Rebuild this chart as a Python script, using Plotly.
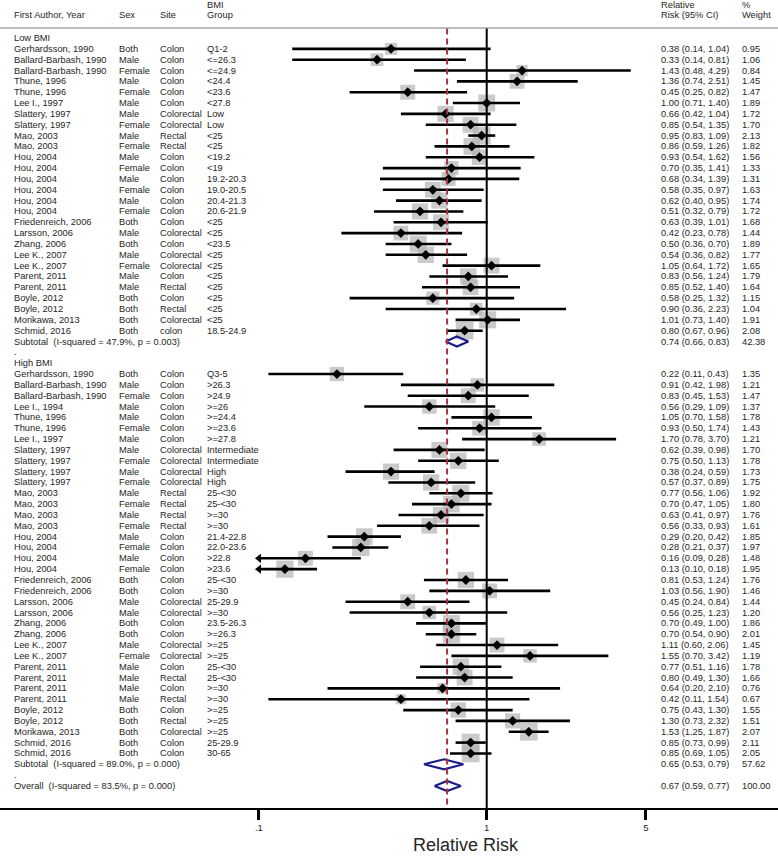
import math
import plotly.graph_objects as go

# ---------------- data ----------------
low_author = ["Gerhardsson, 1990", "Ballard-Barbash, 1990", "Ballard-Barbash, 1990", "Thune, 1996",
              "Thune, 1996", "Lee I., 1997", "Slattery, 1997", "Slattery, 1997", "Mao, 2003", "Mao, 2003",
              "Hou, 2004", "Hou, 2004", "Hou, 2004", "Hou, 2004", "Hou, 2004", "Hou, 2004",
              "Friedenreich, 2006", "Larsson, 2006", "Zhang, 2006", "Lee K., 2007", "Lee K., 2007",
              "Parent, 2011", "Parent, 2011", "Boyle, 2012", "Boyle, 2012", "Morikawa, 2013", "Schmid, 2016"]
low_sex = ["Both", "Male", "Female", "Male", "Female", "Male", "Male", "Female", "Male", "Female",
           "Male", "Female", "Male", "Female", "Male", "Female", "Both", "Male", "Both", "Male", "Female",
           "Male", "Male", "Both", "Both", "Both", "Both"]
low_site = ["Colon", "Colon", "Colon", "Colon", "Colon", "Colon", "Colorectal", "Colorectal", "Rectal", "Rectal",
            "Colon", "Colon", "Colon", "Colon", "Colon", "Colon", "Colon", "Colorectal", "Colon", "Colorectal",
            "Colorectal", "Colon", "Rectal", "Colon", "Rectal", "Colorectal", "colon"]
low_bmi = ["Q1-2", "<=26.3", "<=24.9", "<24.4", "<23.6", "<27.8", "Low", "Low", "<25", "<25",
           "<19.2", "<19", "19.2-20.3", "19.0-20.5", "20.4-21.3", "20.6-21.9", "<25", "<25", "<23.5", "<25",
           "<25", "<25", "<25", "<25", "<25", "<25", "18.5-24.9"]
low_rr = [0.38, 0.33, 1.43, 1.36, 0.45, 1.00, 0.66, 0.85, 0.95, 0.86, 0.93, 0.70, 0.68, 0.58, 0.62, 0.51,
          0.63, 0.42, 0.50, 0.54, 1.05, 0.83, 0.85, 0.58, 0.90, 1.01, 0.80]
low_lo = [0.14, 0.14, 0.48, 0.74, 0.25, 0.71, 0.42, 0.54, 0.83, 0.59, 0.54, 0.35, 0.34, 0.35, 0.40, 0.32,
          0.39, 0.23, 0.36, 0.36, 0.64, 0.56, 0.52, 0.25, 0.36, 0.73, 0.67]
low_hi = [1.04, 0.81, 4.29, 2.51, 0.82, 1.40, 1.04, 1.35, 1.09, 1.26, 1.62, 1.41, 1.39, 0.97, 0.95, 0.79,
          1.01, 0.78, 0.70, 0.82, 1.72, 1.24, 1.40, 1.32, 2.23, 1.40, 0.96]
low_w = [0.95, 1.06, 0.84, 1.45, 1.47, 1.89, 1.72, 1.70, 2.13, 1.82, 1.56, 1.33, 1.31, 1.63, 1.74, 1.72,
         1.68, 1.44, 1.89, 1.77, 1.65, 1.79, 1.64, 1.15, 1.04, 1.91, 2.08]
low_sub = (0.74, 0.66, 0.83, 42.38, "Subtotal  (I-squared = 47.9%, p = 0.003)")

high_author = ["Gerhardsson, 1990", "Ballard-Barbash, 1990", "Ballard-Barbash, 1990", "Lee I., 1994",
               "Thune, 1996", "Thune, 1996", "Lee I., 1997", "Slattery, 1997", "Slattery, 1997",
               "Slattery, 1997", "Slattery, 1997", "Mao, 2003", "Mao, 2003", "Mao, 2003", "Mao, 2003",
               "Hou, 2004", "Hou, 2004", "Hou, 2004", "Hou, 2004", "Friedenreich, 2006", "Friedenreich, 2006",
               "Larsson, 2006", "Larsson, 2006", "Zhang, 2006", "Zhang, 2006", "Lee K., 2007", "Lee K., 2007",
               "Parent, 2011", "Parent, 2011", "Parent, 2011", "Parent, 2011", "Boyle, 2012", "Boyle, 2012",
               "Morikawa, 2013", "Schmid, 2016", "Schmid, 2016"]
high_sex = ["Both", "Male", "Female", "Male", "Male", "Female", "Male", "Male", "Female", "Male", "Female",
            "Male", "Female", "Male", "Female", "Male", "Female", "Male", "Female", "Both", "Both",
            "Male", "Male", "Both", "Both", "Male", "Female", "Male", "Male", "Male", "Male",
            "Both", "Both", "Both", "Both", "Both"]
high_site = ["Colon", "Colon", "Colon", "Colon", "Colon", "Colon", "Colon", "Colorectal", "Colorectal",
             "Colorectal", "Colorectal", "Rectal", "Rectal", "Rectal", "Rectal", "Colon", "Colon", "Colon",
             "Colon", "Colon", "Colon", "Colorectal", "Colorectal", "Colon", "Colon", "Colorectal",
             "Colorectal", "Colon", "Rectal", "Colon", "Rectal", "Colon", "Rectal", "Colorectal", "Colon", "Colon"]
high_bmi = ["Q3-5", ">26.3", ">24.9", ">=26", ">=24.4", ">=23.6", ">=27.8", "Intermediate", "Intermediate",
            "High", "High", "25-<30", "25-<30", ">=30", ">=30", "21.4-22.8", "22.0-23.6", ">22.8", ">23.6",
            "25-<30", ">=30", "25-29.9", ">=30", "23.5-26.3", ">=26.3", ">=25", ">=25", "25-<30", "25-<30",
            ">=30", ">=30", ">=25", ">=25", ">=25", "25-29.9", "30-65"]
high_rr = [0.22, 0.91, 0.83, 0.56, 1.05, 0.93, 1.70, 0.62, 0.75, 0.38, 0.57, 0.77, 0.70, 0.63, 0.56, 0.29,
           0.28, 0.16, 0.13, 0.81, 1.03, 0.45, 0.56, 0.70, 0.70, 1.11, 1.55, 0.77, 0.80, 0.64, 0.42, 0.75,
           1.30, 1.53, 0.85, 0.85]
high_lo = [0.11, 0.42, 0.45, 0.29, 0.70, 0.50, 0.78, 0.39, 0.50, 0.24, 0.37, 0.56, 0.47, 0.41, 0.33, 0.20,
           0.21, 0.09, 0.10, 0.53, 0.56, 0.24, 0.25, 0.49, 0.54, 0.60, 0.70, 0.51, 0.49, 0.20, 0.11, 0.43,
           0.73, 1.25, 0.73, 0.69]
high_hi = [0.43, 1.98, 1.53, 1.09, 1.58, 1.74, 3.70, 0.98, 1.13, 0.59, 0.89, 1.06, 1.05, 0.97, 0.93, 0.42,
           0.37, 0.28, 0.18, 1.24, 1.90, 0.84, 1.23, 1.00, 0.90, 2.06, 3.42, 1.16, 1.30, 2.10, 1.54, 1.30,
           2.32, 1.87, 0.99, 1.05]
high_w = [1.35, 1.21, 1.47, 1.37, 1.78, 1.43, 1.21, 1.70, 1.78, 1.73, 1.75, 1.92, 1.80, 1.76, 1.61, 1.85,
          1.97, 1.48, 1.95, 1.76, 1.46, 1.44, 1.20, 1.86, 2.01, 1.45, 1.19, 1.78, 1.66, 0.76, 0.67, 1.55,
          1.51, 2.07, 2.11, 2.05]
high_sub = (0.65, 0.53, 0.79, 57.62, "Subtotal  (I-squared = 89.0%, p = 0.000)")
overall = (0.67, 0.59, 0.77, 100.00, "Overall  (I-squared = 83.5%, p = 0.000)")

x_ticks = [0.1, 1, 5]
x_ticktext = [".1", "1", "5"]

# ---------------- layout constants ----------------
W, H = 778, 857
PLOT_BOTTOM = 808          # pixel y of x-axis line
ROW0_PX = 38.0             # pixel y of first row
ROW_H = 10.84              # pixels per row
X_MIN = 0.1                # clipping limit for CIs (left end of displayed scale)
LOG_LEFT = -2.137
LOG_RIGHT = 1.279
FONT = "Arial, Liberation Sans, sans-serif"
TXT_COL = "#262626"
FS = 9.3

def px_to_row(py):
    return (py - ROW0_PX) / ROW_H

def xp(px):
    return px / W

# ---------------- build rows ----------------
rows = []
rows.append(dict(kind="header", label="Low BMI"))
for i in range(len(low_rr)):
    rows.append(dict(kind="study", a=low_author[i], s=low_sex[i], site=low_site[i], b=low_bmi[i],
                     rr=low_rr[i], lo=low_lo[i], hi=low_hi[i], w=low_w[i]))
rows.append(dict(kind="pooled", rr=low_sub[0], lo=low_sub[1], hi=low_sub[2], w=low_sub[3], label=low_sub[4]))
rows.append(dict(kind="dot"))
rows.append(dict(kind="header", label="High BMI"))
for i in range(len(high_rr)):
    rows.append(dict(kind="study", a=high_author[i], s=high_sex[i], site=high_site[i], b=high_bmi[i],
                     rr=high_rr[i], lo=high_lo[i], hi=high_hi[i], w=high_w[i]))
rows.append(dict(kind="pooled", rr=high_sub[0], lo=high_sub[1], hi=high_sub[2], w=high_sub[3], label=high_sub[4]))
rows.append(dict(kind="dot"))
rows.append(dict(kind="pooled", rr=overall[0], lo=overall[1], hi=overall[2], w=overall[3], label=overall[4]))

fig = go.Figure()
ann = []

def add_text(px_x, row, text, size=FS):
    ann.append(dict(x=xp(px_x), xref="paper", y=row, yref="y", text=text, showarrow=False,
                    xanchor="left", yanchor="middle", font=dict(family=FONT, size=size, color=TXT_COL)))

COL_A, COL_S, COL_SITE, COL_B, COL_RR, COL_W = 12, 117, 158, 205, 659, 740

sq_x, sq_y, sq_s = [], [], []
ln_x, ln_y = [], []
pt_x, pt_y = [], []
arr_x, arr_y = [], []
dm_x, dm_y = [], []

for r, row in enumerate(rows):
    k = row["kind"]
    if k == "header":
        add_text(COL_A, r, row["label"])
    elif k == "dot":
        add_text(COL_A, r, ".")
    elif k == "study":
        add_text(COL_A, r, row["a"])
        add_text(COL_S, r, row["s"])
        add_text(COL_SITE, r, row["site"])
        add_text(COL_B, r, row["b"])
        add_text(COL_RR, r, f"{row['rr']:.2f} ({row['lo']:.2f}, {row['hi']:.2f})")
        add_text(COL_W, r, f"{row['w']:.2f}")
        sq_x.append(row["rr"]); sq_y.append(r); sq_s.append(12.3 * math.sqrt(row["w"]))
        lo = row["lo"]
        if lo <= X_MIN:
            lo = X_MIN
            arr_x.append(X_MIN); arr_y.append(r)
        ln_x += [lo, row["hi"], None]; ln_y += [r, r, None]
        pt_x.append(row["rr"]); pt_y.append(r)
    elif k == "pooled":
        add_text(COL_A, r, row["label"])
        add_text(COL_RR, r, f"{row['rr']:.2f} ({row['lo']:.2f}, {row['hi']:.2f})")
        add_text(COL_W, r, f"{row['w']:.2f}")
        h = 0.46
        dm_x += [row["lo"], row["rr"], row["hi"], row["rr"], row["lo"], None]
        dm_y += [r, r - h, r, r + h, r, None]

# header texts
add_text(COL_A, px_to_row(15), "First Author, Year")
add_text(COL_S, px_to_row(15), "Sex")
add_text(COL_SITE, px_to_row(15), "Site")
add_text(COL_B, px_to_row(4.5), "BMI")
add_text(COL_B, px_to_row(15), "Group")
add_text(COL_RR, px_to_row(4.5), "Relative")
add_text(COL_RR, px_to_row(15), "Risk (95% CI)")
add_text(COL_W, px_to_row(4.5), "%")
add_text(COL_W, px_to_row(15), "Weight")

fig.add_trace(go.Scatter(x=sq_x, y=sq_y, mode="markers",
                         marker=dict(symbol="square", size=sq_s, color="#b4b4b4", line=dict(width=0)),
                         hoverinfo="skip"))
fig.add_trace(go.Scatter(x=ln_x, y=ln_y, mode="lines", line=dict(color="black", width=2.6),
                         hoverinfo="skip"))
fig.add_trace(go.Scatter(x=arr_x, y=arr_y, mode="markers",
                         marker=dict(symbol="triangle-left", size=8, color="black"), hoverinfo="skip"))
fig.add_trace(go.Scatter(x=pt_x, y=pt_y, mode="markers",
                         marker=dict(symbol="diamond", size=7.5, color="black"), hoverinfo="skip"))
fig.add_trace(go.Scatter(x=dm_x, y=dm_y, mode="lines", line=dict(color="#1c1c8a", width=2.2),
                         hoverinfo="skip"))

y_top = px_to_row(0)
y_bot = px_to_row(PLOT_BOTTOM)
line_top = px_to_row(28.5)

shapes = [
    dict(type="line", xref="paper", yref="y", x0=0, x1=1, y0=px_to_row(28), y1=px_to_row(28),
         line=dict(color="#bdbdbd", width=2)),
    dict(type="line", xref="x", yref="y", x0=1, x1=1, y0=line_top, y1=y_bot,
         line=dict(color="black", width=2)),
    dict(type="line", xref="x", yref="y", x0=overall[0], x1=overall[0], y0=line_top, y1=y_bot,
         line=dict(color="#a8323a", width=2, dash="6px,4px")),
]

# axis title (anchored to bottom edge so it is not clipped)
ann.append(dict(x=xp(466), xref="paper", y=-(H - PLOT_BOTTOM - 1) / PLOT_BOTTOM, yref="paper",
                text="Relative Risk", showarrow=False, xanchor="center", yanchor="bottom", borderpad=0,
                font=dict(family=FONT, size=18, color=TXT_COL)))

fig.update_layout(
    width=W, height=H,
    margin=dict(l=0, r=0, t=0, b=H - PLOT_BOTTOM, pad=0),
    paper_bgcolor="white", plot_bgcolor="white",
    showlegend=False,
    annotations=ann, shapes=shapes,
    xaxis=dict(type="log", range=[LOG_LEFT, LOG_RIGHT], tickvals=x_ticks, ticktext=x_ticktext,
               showgrid=False, zeroline=False, showline=True, linecolor="black", linewidth=2,
               ticks="outside", ticklen=10, tickwidth=2.5, tickcolor="black", ticklabelstandoff=0,
               tickfont=dict(family=FONT, size=9.5, color=TXT_COL), fixedrange=True),
    yaxis=dict(range=[y_bot, y_top], visible=False, showgrid=False, zeroline=False, fixedrange=True),
)

fig.write_html("out.html", config={"displayModeBar": False},
               post_script="document.body.style.margin='0px';document.body.style.overflow='hidden';")
